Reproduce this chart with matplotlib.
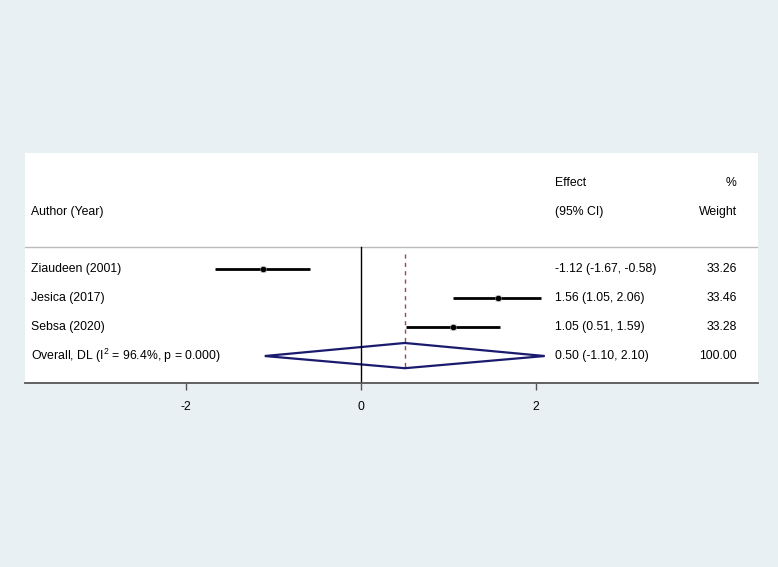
import numpy as np
import matplotlib.pyplot as plt
from matplotlib.patches import Polygon

plt.rcParams['font.family'] = ['Liberation Sans', 'DejaVu Sans']
plt.rcParams['mathtext.fontset'] = 'custom'
plt.rcParams['mathtext.rm'] = 'Liberation Sans'

studies = ["Ziaudeen (2001)", "Jesica (2017)", "Sebsa (2020)"]
effects = [-1.12, 1.56, 1.05]
lower = [-1.67, 1.05, 0.51]
upper = [-0.58, 2.06, 1.59]
weights = [33.26, 33.46, 33.28]
overall = 0.50
overall_low = -1.10
overall_high = 2.10
overall_label = "Overall, DL (I$^{2}$ = 96.4%, p = 0.000)"
xticks = [-2, 0, 2]

bg = '#e8f0f3'
fig = plt.figure(figsize=(7.78, 5.67), dpi=100, facecolor=bg)
W, H = 778, 567
ax = fig.add_axes([25 / W, (H - 383) / H, 733 / W, (383 - 153) / H])
ax.set_facecolor('white')
ax.set_xlim(-3.84, 4.537)
ax.set_ylim(3.93, -4.0)

fs = 8.8
x_lab, x_eff, x_w = -3.77, 2.217, 4.297

# header
ax.text(x_eff, -2.97, "Effect", fontsize=fs, va='center', ha='left')
ax.text(x_w, -2.97, "%", fontsize=fs, va='center', ha='right')
ax.text(x_lab, -1.97, "Author (Year)", fontsize=fs, va='center', ha='left')
ax.text(x_eff, -1.97, "(95% CI)", fontsize=fs, va='center', ha='left')
ax.text(x_w, -1.97, "Weight", fontsize=fs, va='center', ha='right')
ax.axhline(-0.76, color='#bbbbbb', lw=1)

# reference lines
ax.plot([0, 0], [-0.76, 3.93], color='black', lw=1)
ax.plot([overall, overall], [-0.52, 3.41], color='#a04848', lw=1, ls=(0, (3, 3)))

# studies
for i, (name, e, lo, hi, w) in enumerate(zip(studies, effects, lower, upper, weights)):
    ax.plot([lo, hi], [i, i], color='black', lw=2, solid_capstyle='butt')
    ax.plot(e, i, marker='s', ms=5, color='#b8b8b8', mec='none')
    ax.plot(e, i, marker='o', ms=3, color='black')
    ax.text(x_lab, i, name, fontsize=fs, va='center', ha='left')
    ax.text(x_eff, i, f"{e:.2f} ({lo:.2f}, {hi:.2f})", fontsize=fs, va='center', ha='left')
    ax.text(x_w, i, f"{w:.2f}", fontsize=fs, va='center', ha='right')

# overall diamond
r = len(studies)
diamond = Polygon([[overall_low, r], [overall, r - 0.45], [overall_high, r], [overall, r + 0.42]],
                  closed=True, fill=False, edgecolor='#1a1a6e', lw=1.6)
ax.add_patch(diamond)
ax.text(x_lab, r, overall_label, fontsize=fs, va='center', ha='left')
ax.text(x_eff, r, f"{overall:.2f} ({overall_low:.2f}, {overall_high:.2f})", fontsize=fs, va='center', ha='left')
ax.text(x_w, r, "100.00", fontsize=fs, va='center', ha='right')

# axes styling
for s in ['top', 'left', 'right']:
    ax.spines[s].set_visible(False)
ax.spines['bottom'].set_color('#555555')
ax.spines['bottom'].set_linewidth(1.3)
ax.set_yticks([])
ax.set_xticks(xticks)
ax.set_xticklabels([str(t) for t in xticks], fontsize=fs)
ax.tick_params(axis='x', direction='out', length=5, width=1, color='#555555', pad=8)

fig.savefig('out.png', dpi=100, facecolor=bg)
